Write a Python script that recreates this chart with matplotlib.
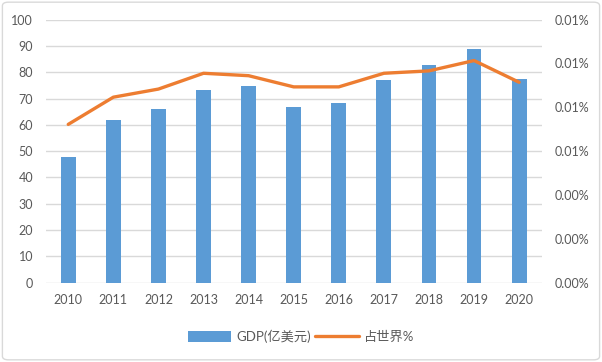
import matplotlib
matplotlib.use("Agg")
import matplotlib.pyplot as plt
from matplotlib.ticker import FuncFormatter, FixedLocator
from matplotlib.patches import FancyBboxPatch

years = ["2010", "2011", "2012", "2013", "2014", "2015", "2016", "2017", "2018", "2019", "2020"]
gdp = [47.9, 61.9, 66.0, 73.3, 74.8, 66.8, 68.3, 77.1, 82.8, 88.9, 77.4]
share_pct = [0.00722, 0.00846, 0.00883, 0.00955, 0.00944, 0.00893, 0.00893, 0.00955, 0.00966, 0.01013, 0.00914]

plt.rcParams['font.family'] = ['Lato', 'Noto Sans CJK SC', 'DejaVu Sans']
text_color = "#595959"
grid_color = "#D9D9D9"

fig = plt.figure(figsize=(6.02, 3.62), dpi=100)
ax = fig.add_axes([0.0759, 0.219, 0.8239, 0.727])
x = list(range(len(years)))
bars = ax.bar(x, gdp, width=0.33, color="#5B9BD5", zorder=2, label="GDP(亿美元)")
ax.set_ylim(0, 100)
ax.set_xlim(-0.5, len(years) - 0.5)
ax.set_yticks(range(0, 101, 10))
ax.set_xticks(x)
ax.set_xticklabels(years)
ax.yaxis.grid(True, color=grid_color, linewidth=1)
ax.set_axisbelow(True)
for s in ax.spines.values():
    s.set_visible(False)
ax.tick_params(length=0, colors=text_color, labelsize=9)
ax.tick_params(axis='x', pad=8)
ax.tick_params(axis='y', pad=9)

ax2 = ax.twinx()
line, = ax2.plot(x, share_pct, color="#ED7D31", linewidth=2.4, solid_joinstyle='round',
                 solid_capstyle='round', zorder=3, label="占世界%")
ax2.set_ylim(0, 0.012)
ax2.yaxis.set_major_locator(FixedLocator([0, 0.002, 0.004, 0.006, 0.008, 0.010, 0.012]))
ax2.yaxis.set_major_formatter(FuncFormatter(lambda v, p: f"{v:.2f}%"))
for s in ax2.spines.values():
    s.set_visible(False)
ax2.tick_params(length=0, colors=text_color, labelsize=9, pad=9)

leg = fig.legend(handles=[bars, line], labels=["GDP(亿美元)", "占世界%"], loc="center",
                 bbox_to_anchor=(0.5, 0.072), ncol=2, frameon=False, fontsize=9.5,
                 handlelength=3.3, handleheight=0.9, columnspacing=0.3, handletextpad=0.4)
for t in leg.get_texts():
    t.set_color(text_color)

border = FancyBboxPatch((0.004, 0.006), 0.992, 0.988, boxstyle="round,pad=0,rounding_size=0.01",
                        transform=fig.transFigure, facecolor="none", edgecolor=grid_color, linewidth=1)
fig.patches.append(border)

fig.savefig("out.png", dpi=100)
